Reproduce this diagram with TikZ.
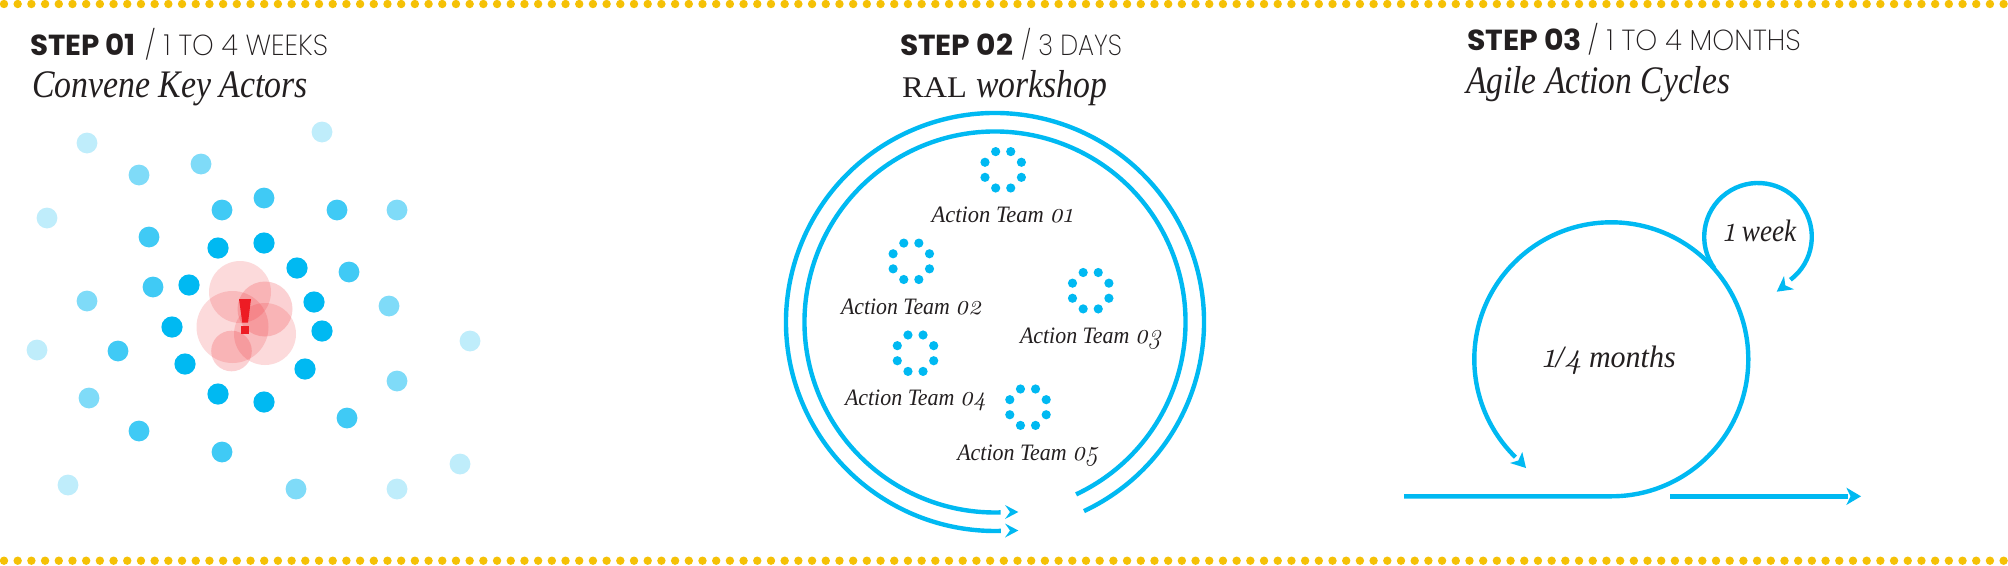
\documentclass[tikz,border=0pt]{standalone}
\usepackage{fontspec}
\setmainfont{Liberation Serif}
\newfontfamily\oldnum{Latin Modern Roman}[Numbers=OldStyle]
\newfontfamily\hbold{Poppins}[UprightFont=*, BoldFont=* Bold]
\newfontfamily\hlight{Poppins ExtraLight}
\definecolor{cy}{HTML}{00B9F2}
\definecolor{ink}{HTML}{231F20}
\definecolor{yel}{HTML}{F5C106}
\definecolor{alarm}{HTML}{ED1C24}
\tikzset{
  px/.style={x=1pt,y=-1pt},
  actorA/.style={fill=cy,draw=none},
  actorB/.style={fill=cy,fill opacity=.75,draw=none},
  actorC/.style={fill=cy,fill opacity=.5,draw=none},
  actorD/.style={fill=cy,fill opacity=.25,draw=none},
  halo/.style={fill=alarm,fill opacity=.16,draw=none},
  halotwo/.style={fill=alarm,fill opacity=.2,draw=none},
  loopline/.style={draw=cy,line width=4.4pt},
  tip/.style={fill=cy,draw=none},
  head/.style={inner sep=0pt,outer sep=0pt,anchor=base west,text=ink},
}
% width-fitted text: keeps its height, takes the reference's width
\newcommand\fit[2]{\resizebox{#1pt}{\height}{#2}}
\newcommand\Stephead[5]{\fit{#1}{\hbold\bfseries\fontsize{29}{29}\selectfont #2}\hspace{#3pt}\fit{#4}{\hlight\fontsize{29}{29}\selectfont / #5}}
\newcommand\Sub[2]{\fit{#1}{\itshape\fontsize{39}{39}\selectfont #2}}
\newcommand\Team[1]{\fit{141}{\itshape\fontsize{23.5}{24}\selectfont Action Team\ {\oldnum\itshape\fontsize{28}{28}\selectfont #1}}}
\newcommand\Lab[2]{\fit{#1}{\itshape\fontsize{31}{31}\selectfont #2}}
\newcommand\Dig[1]{{\oldnum\itshape\fontsize{37}{37}\selectfont #1}}
\newcommand\ringat[2]{\foreach \a in {22.5,67.5,...,360} \fill[cy] (#1,#2) ++(\a:19.7) circle[radius=4.6];}
\begin{document}
\begin{tikzpicture}[px]
\useasboundingbox (0,0) rectangle (2008,565);
\fill[white] (0,0) rectangle (2008,565);
% dotted rules
\foreach \i in {0,...,146} {
  \fill[yel] ({4+\i*13.696},4) circle[radius=4.2];
  \fill[yel] ({4+\i*13.696},560.7) circle[radius=4.2];
}
% headings
\node[head] (h1) at (30,55.6) {\Stephead{106}{STEP 01}{9}{183}{1 TO 4 WEEKS}};
\node[head] (s1) at (32,97) {\Sub{276}{Convene Key Actors}};
\node[head] (h2) at (900,55.6) {\Stephead{113}{STEP 02}{8}{101}{3 DAYS}};
\node[head] (s2) at (902,97) {\fit{65}{\fontsize{30}{30}\selectfont RAL}\hspace{9pt}\Sub{131}{workshop}};
\node[head] (h3) at (1467,50.7) {\Stephead{115}{STEP 03}{5.7}{213}{1 TO 4 MONTHS}};
\node[head] (s3) at (1466,93) {\Sub{264}{Agile Action Cycles}};
% step 1 actors
\foreach \x/\y in {87/143,322/132,47/218,37/350,470/341,460/464,68/485,397/489}
  \fill[actorD] (\x,\y) circle[radius=10.4];
\foreach \x/\y in {139/175,201/164,397/210,87/301,389/306,397/381,89/398,296/489}
  \fill[actorC] (\x,\y) circle[radius=10.4];
\foreach \x/\y in {222/210,264/198,337/210,149/237,349/272,153/287,118/351,139/431,222/452,347/418}
  \fill[actorB] (\x,\y) circle[radius=10.4];
\foreach \x/\y in {218/248,264/243,297/268,189/285,314/302,172/327,322/331,185/364,305/369,218/394,264/402}
  \fill[actorA] (\x,\y) circle[radius=10.6];
% alarm
\fill[halo] (240,292) circle[radius=31];
\fill[halo] (232.5,327) circle[radius=36];
\fill[halo] (265,334) circle[radius=31];
\fill[halotwo] (265,309) circle[radius=27.5];
\fill[halotwo] (231.5,351) circle[radius=20.3];
\fill[alarm] (239,299) -- (251,299) -- (248,322.7) -- (242.3,322.7) -- cycle;
\fill[alarm] (241,326) rectangle (249.3,334);
% step 2
\coordinate (wsc) at (995,322);
\draw[loopline] (wsc) ++(64.8:209) arc[start angle=64.8,end angle=-271.6,radius=209];
\draw[loopline] (wsc) ++(64.8:190.5) arc[start angle=64.8,end angle=-271.7,radius=190.5];
\fill[tip] (1018.3,512) -- (1005,505) -- (1010,512) -- (1005,519) -- cycle;
\fill[tip] (1018.3,530.5) -- (1005,523.5) -- (1010,530.5) -- (1005,537.5) -- cycle;
\ringat{1003.2}{169.8}
\ringat{911.3}{261.3}
\ringat{1090.7}{290.7}
\ringat{915.5}{353.2}
\ringat{1028}{407.2}
\node[head] (t1) at (931.7,222.3) {\Team{01}};
\node[head] (t2) at (841,314.3) {\Team{02}};
\node[head] (t3) at (1020,343.3) {\Team{03}};
\node[head] (t4) at (845,405) {\Team{04}};
\node[head] (t5) at (957.3,460) {\Team{05}};
% step 3
\coordinate (bigc) at (1611.3,359.3);
\coordinate (smallc) at (1758,236.8);
\draw[loopline] (1404,496.3) -- (1611.3,496.3) arc[start angle=90,end angle=-225.6,radius=137];
\draw[loopline] (1670,496.3) -- (1848,496.3);
\draw[loopline] (smallc) ++(144:53.8) arc[start angle=144,end angle=413,radius=53.8];
\fill[tip] (1526,468) -- (1522.3,452) -- (1518.3,460.5) -- (1510,463) -- cycle;
\fill[tip] (1861,496.3) -- (1846.3,487.6) -- (1850.5,496.3) -- (1846.3,505) -- cycle;
\fill[tip] (1776.7,291.7) -- (1784,276) -- (1785.3,285.4) -- (1794,289.3) -- cycle;
\node[head] (w1) at (1723.3,241.7) {\Lab{73}{\Dig{1} week}};
\node[head] (w2) at (1542.7,367.3) {\Lab{133}{\Dig{1}/\Dig{4} months}};
\end{tikzpicture}
\end{document}
